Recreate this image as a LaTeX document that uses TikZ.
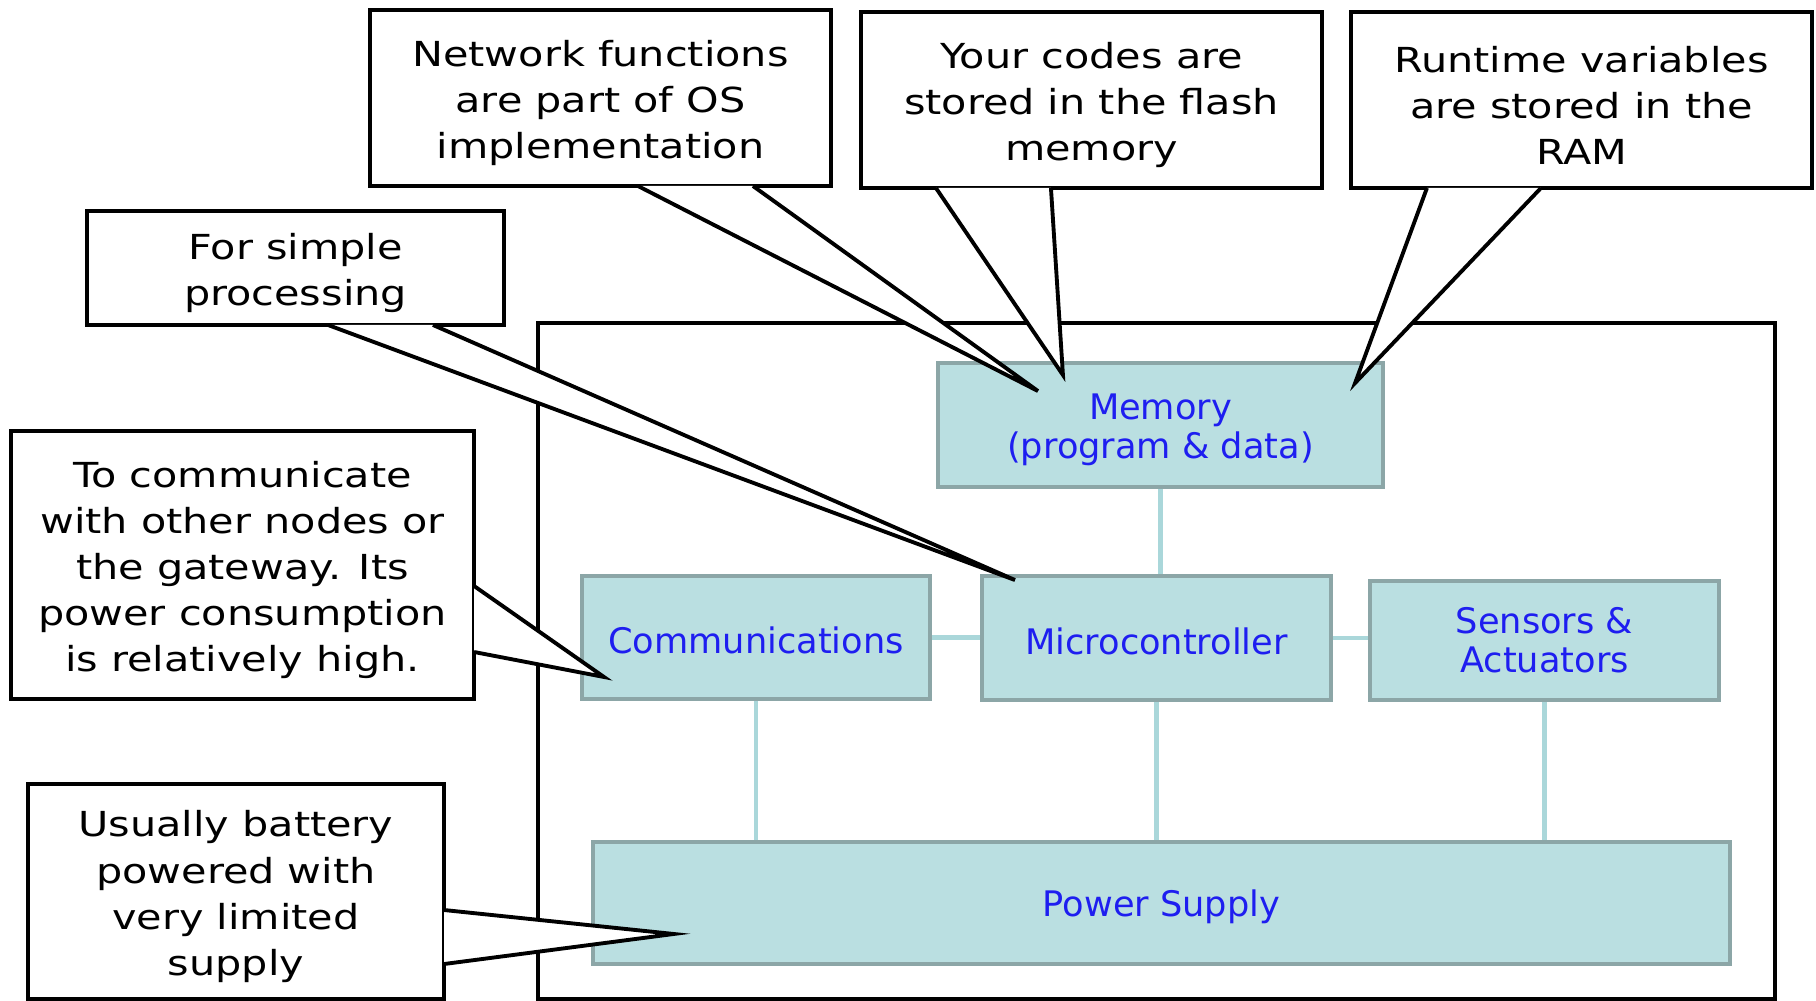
\documentclass[tikz,border=0pt]{standalone}
\usepackage{fontspec}
\setmainfont{DejaVu Sans}
\newfontfamily\notefont[FakeStretch=1.2]{DejaVu Sans}
\usepackage{xcolor}
\usepackage{tikz}
\usetikzlibrary{calc}
\definecolor{blockfill}{RGB}{186,223,225}
\definecolor{blockline}{RGB}{140,166,167}
\definecolor{linkline}{RGB}{170,215,218}
\definecolor{labelblue}{RGB}{30,30,240}
% taller first line, pushes the text a little down in its box
\newcommand\topstrut[1][10.3pt]{\rule{0pt}{#1}}

\begin{document}
\begin{tikzpicture}[x=0.01cm, y=-0.01cm,
  block/.style={rectangle, draw=blockline, fill=blockfill, line width=1.1pt, text=labelblue, align=center, font=\fontsize{10}{11.1}\selectfont, inner sep=0pt},
  note/.style={rectangle, draw, fill=white, line width=1.1pt, align=center, font=\notefont\fontsize{9.8}{13.1}\selectfont, inner sep=0pt},
  wedge/.style={draw, fill=white, line width=1.1pt, line join=miter},
  link/.style={draw=linkline, line width=1.4pt}]
\useasboundingbox (0,0) rectangle (1816,1000);
% sensor node board
\draw[line width=1.2pt] (538,323) rectangle (1775,999);
\node[block, minimum width=4.45cm, minimum height=1.24cm] (mem) at (1160.5,425) {\topstrut Memory\\(program \& data)};
\node[block, minimum width=3.48cm, minimum height=1.23cm] (comm) at (756,637.5) {\topstrut[9.3pt]Communications};
\node[block, minimum width=3.49cm, minimum height=1.24cm] (mcu) at (1156.5,638) {\topstrut[9.3pt]Microcontroller};
\node[block, minimum width=3.49cm, minimum height=1.19cm] (sens) at (1544.5,640.5) {Sensors \&\\Actuators};
\node[block, minimum width=11.37cm, minimum height=1.22cm] (power) at (1161.5,903) {\topstrut[9.9pt]Power Supply};
\draw[link] (mem.south) -- (mem.south |- mcu.north);
\draw[link] (comm.east) -- (comm.east -| mcu.west);
\draw[link] (mcu.east) -- (mcu.east -| sens.west);
\draw[link] (comm.south) -- (comm.south |- power.north);
\draw[link] (mcu.south) -- (mcu.south |- power.north);
\draw[link] (sens.south) -- (sens.south |- power.north);
% callouts
\node[note, minimum width=4.61cm, minimum height=1.76cm] (netnote) at (600.5,98) {\topstrut Network functions\\are part of OS\\implementation};
\draw[wedge] ($(netnote.south west)+(270,-2)$) -- ($(mem.north west)+(102,30)$) -- ($(netnote.south west)+(385,-2)$);
\node[note, minimum width=4.61cm, minimum height=1.76cm] (codenote) at (1091.5,100) {\topstrut Your codes are\\stored in the flash\\memory};
\draw[wedge] ($(codenote.south west)+(77,-2)$) -- ($(mem.north west)+(127,14)$) -- ($(codenote.south west)+(192,-2)$);
\node[note, minimum width=4.61cm, minimum height=1.76cm] (ramnote) at (1581.5,100) {\topstrut Runtime variables\\are stored in the\\RAM};
\draw[wedge] ($(ramnote.south west)+(78,-2)$) -- ($(mem.north east)+(-30,22)$) -- ($(ramnote.south west)+(192,-2)$);
\node[note, minimum width=4.17cm, minimum height=1.14cm] (procnote) at (295.5,268) {\topstrut For simple\\processing};
\draw[wedge] ($(procnote.south west)+(243,-2)$) -- ($(mcu.north west)+(35,6)$) -- ($(procnote.south west)+(348,-2)$);
\node[note, minimum width=4.63cm, minimum height=2.68cm] (commnote) at (242.5,565) {\topstrut To communicate\\with other nodes or\\the gateway. Its\\power consumption\\is relatively high.};
\draw[wedge] ($(commnote.north east)+(-2,157)$) -- ($(comm.south west)+(24,-24)$) -- ($(commnote.north east)+(-2,223)$);
\node[note, minimum width=4.16cm, minimum height=2.15cm] (battnote) at (236,891.5) {\topstrut Usually battery\\powered with\\very limited\\supply};
\draw[wedge] ($(battnote.north east)+(-2,128)$) -- ($(power.south west)+(83,-32)$) -- ($(battnote.north east)+(-2,182)$);
\end{tikzpicture}
\end{document}
